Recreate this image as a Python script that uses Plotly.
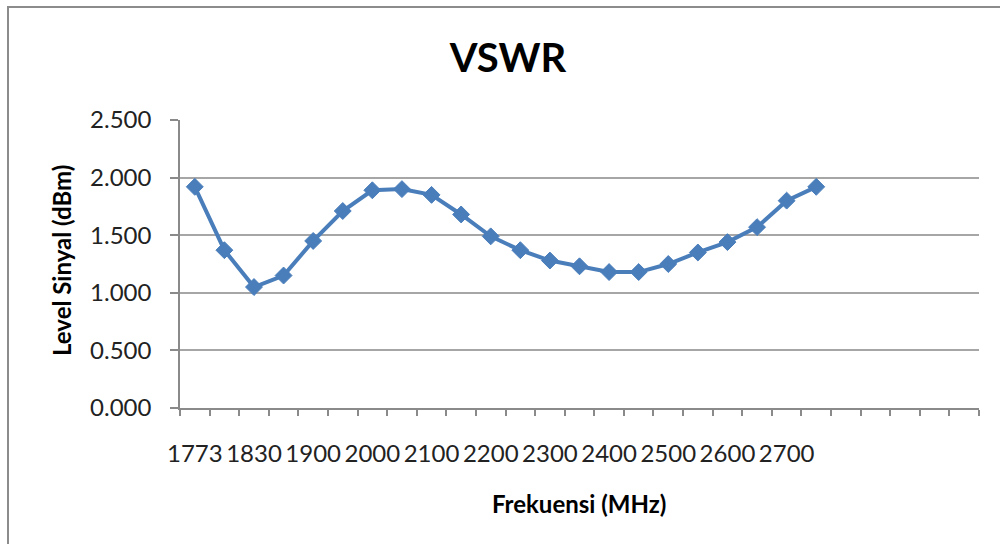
import plotly.graph_objects as go

# VSWR measured across the frequency sweep
freq_mhz = ["1773", "1800", "1830", "1850", "1900", "1950", "2000", "2050",
            "2100", "2150", "2200", "2250", "2300", "2350", "2400", "2450",
            "2500", "2550", "2600", "2650", "2700", "2750"]
vswr = [1.92, 1.37, 1.05, 1.15, 1.45, 1.71, 1.89, 1.90, 1.85, 1.68, 1.49,
        1.37, 1.28, 1.23, 1.18, 1.18, 1.25, 1.35, 1.44, 1.57, 1.80, 1.92]
y_ticks = [0.0, 0.5, 1.0, 1.5, 2.0, 2.5]

n_slots = 27          # category slots reserved on the horizontal axis
label_every = 2       # only every other category is labelled

x_pos = list(range(len(freq_mhz)))
line_blue = "#4a7ebb"
axis_grey = "#8a8a8a"
grid_grey = "#a6a6a6"
font_name = "Lato"

fig = go.Figure()
fig.add_trace(go.Scatter(
    x=x_pos, y=vswr, mode="lines+markers",
    line=dict(color=line_blue, width=4),
    marker=dict(symbol="diamond", size=13, color=line_blue,
                line=dict(color=line_blue, width=1)),
    hovertext=freq_mhz, showlegend=False,
))

W, H = 1000, 544
L, R, T, B = 180, 21, 120, 136
pw, ph = W - L - R, H - T - B


def px(xp):
    return (xp - L) / pw


def py(yp):
    return (H - B - yp) / ph


fig.update_layout(
    width=W, height=H,
    margin=dict(l=L, r=R, t=T, b=B),
    paper_bgcolor="white", plot_bgcolor="white",
    title=dict(text="<b>VSWR</b>", x=0.508, xanchor="center",
               y=1 - 58 / H, yanchor="middle", yref="container",
               font=dict(family=font_name, size=40, color="black")),
    xaxis=dict(
        range=[-0.5, n_slots - 0.5], showgrid=False, zeroline=False,
        showline=True, linecolor=axis_grey, linewidth=1.5,
        tickmode="array", tickvals=x_pos[::label_every],
        ticktext=freq_mhz[::label_every], ticks="",
        ticklabelstandoff=23,
        tickfont=dict(family=font_name, size=24, color="#222222"),
        minor=dict(tickmode="linear", tick0=-0.5, dtick=1, ticks="outside",
                   ticklen=6, tickwidth=1.5, tickcolor=axis_grey,
                   showgrid=False),
    ),
    yaxis=dict(
        range=[0, 2.5], tickmode="array", tickvals=y_ticks,
        tickformat=".3f", showgrid=True, gridcolor=grid_grey, gridwidth=1.5,
        zeroline=False, showline=True, linecolor=axis_grey, linewidth=1.5,
        ticks="outside", ticklen=8, tickwidth=1.5, tickcolor=axis_grey,
        ticklabelstandoff=14,
        tickfont=dict(family=font_name, size=24, color="#222222"),
    ),
    annotations=[
        dict(text="<b>Frekuensi (MHz)</b>", x=px(579), y=py(503),
             xref="paper", yref="paper", showarrow=False,
             xanchor="center", yanchor="middle",
             font=dict(family=font_name, size=24, color="black")),
        dict(text="<b>Level Sinyal (dBm)</b>", x=px(61), y=py(261),
             xref="paper", yref="paper", showarrow=False, textangle=-90,
             xanchor="center", yanchor="middle",
             font=dict(family=font_name, size=24, color="black")),
    ],
    shapes=[
        dict(type="rect", xref="paper", yref="paper",
             x0=px(8), x1=px(1010), y0=py(560), y1=py(7),
             line=dict(color="#8c8c8c", width=2), layer="below"),
    ],
)

fig.write_html("out.html")
